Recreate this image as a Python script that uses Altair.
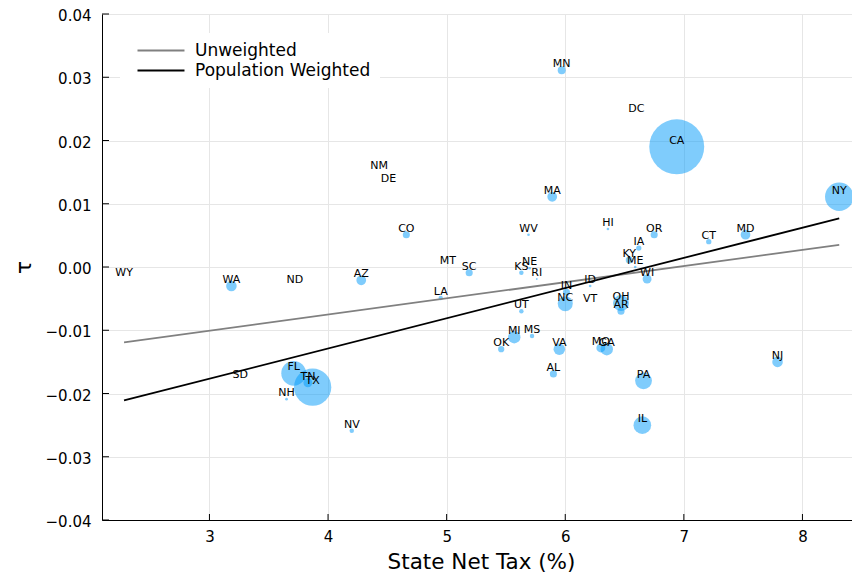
import altair as alt
import pandas as pd
import math

# ---- data ----
states = ["WY","WA","SD","NH","ND","FL","TN","TX","NV","AZ","NM","DE","CO","MT","LA",
          "SC","OK","MI","UT","KS","WV","NE","MS","RI","AL","MA","VA","MN","NC","IN",
          "ID","VT","MO","GA","HI","OH","AR","KY","ME","DC","IA","PA","IL","WI","OR",
          "CA","CT","MD","NJ","NY"]
net_tax = [2.28,3.185,3.26,3.65,3.72,3.71,3.83,3.87,4.20,4.28,4.43,4.51,4.66,5.01,4.95,
           5.19,5.46,5.57,5.63,5.63,5.69,5.70,5.72,5.76,5.90,5.89,5.95,5.97,6.00,6.01,
           6.21,6.21,6.30,6.35,6.36,6.47,6.47,6.54,6.59,6.60,6.62,6.66,6.65,6.69,6.75,
           6.94,7.21,7.52,7.79,8.31]
tau = [-0.0019,-0.0030,-0.0180,-0.0209,-0.0030,-0.0168,-0.0183,-0.0190,-0.0259,-0.0021,
       0.0150,0.0130,0.0051,0.0000,-0.0049,
       -0.0009,-0.0130,-0.0111,-0.0070,-0.0009,0.0051,-0.0002,-0.0109,-0.0019,-0.0169,
       0.0111,-0.0130,0.0311,-0.0058,-0.0040,
       -0.0030,-0.0060,-0.0128,-0.0130,0.0060,-0.0057,-0.0070,0.0011,0.0000,0.0240,
       0.0030,-0.0180,-0.0250,-0.0019,0.0051,
       0.0190,0.0040,0.0051,-0.0150,0.0111]
weight = [0,7.6,0,1.9,0,17.8,6.4,26.8,3.2,7.0,0,0,5.1,0,3.2,
          5.1,4.5,8.9,3.2,3.2,1.9,1.9,3.2,1.3,5.1,7.0,8.3,5.7,10.8,5.1,
          1.9,0,6.4,8.9,1.9,11.5,5.1,5.1,1.9,0,3.8,12.1,12.7,6.4,5.1,
          39.5,3.8,7.0,7.6,20.4]

fit_series = ["Unweighted","Unweighted","Population Weighted","Population Weighted"]
fit_x = [2.28, 8.31, 2.28, 8.31]
fit_y = [-0.0119, 0.0035, -0.0211, 0.0077]

x_ticks = [3,4,5,6,7,8]
y_ticks = [-0.04,-0.03,-0.02,-0.01,0.0,0.01,0.02,0.03,0.04]

pts = pd.DataFrame({"state": states, "x": net_tax, "y": tau, "w": weight})
fit = pd.DataFrame({"series": fit_series, "x": fit_x, "y": fit_y})
xt = pd.DataFrame({"v": x_ticks})
yt = pd.DataFrame({"v": y_ticks})

FONT = "DejaVu Sans"
W, H = 750, 506
xs = alt.Scale(domain=[2.094, 2.094 + W / 118.6], nice=False, zero=False)
ys = alt.Scale(domain=[-0.04, 0.04], nice=False, zero=False)

xaxis = alt.Axis(values=x_ticks, format="d", title="State Net Tax (%)", ticks=False,
                 labelPadding=9, titlePadding=7, titleX=379, grid=True)
yaxis = alt.Axis(values=y_ticks, format=".2f", title="τ", ticks=False,
                 labelPadding=11, labelOffset=1.5, titlePadding=10, grid=True)

points = alt.Chart(pts).mark_circle(color="#009AFA", opacity=0.5, strokeWidth=0).encode(
    x=alt.X("x:Q", scale=xs, axis=xaxis),
    y=alt.Y("y:Q", scale=ys, axis=yaxis),
    size=alt.Size("w:Q", scale=alt.Scale(type="pow", exponent=2, domain=[0, 39.5],
                                         range=[0, math.pi * 31 ** 2]), legend=None),
)

lines = alt.Chart(fit).mark_line(strokeWidth=1.8).encode(
    x=alt.X("x:Q", scale=xs),
    y=alt.Y("y:Q", scale=ys),
    color=alt.Color("series:N",
                    scale=alt.Scale(domain=["Unweighted", "Population Weighted"],
                                    range=["#808080", "#000000"]),
                    legend=alt.Legend(title=None, orient="none", legendX=18, legendY=19,
                                      fillColor="white", padding=9,
                                      symbolType="M0,0H8", symbolSize=138,
                                      symbolStrokeWidth=1.8, labelFontSize=17,
                                      labelFont=FONT, labelOffset=49, rowPadding=2,
                                      labelLimit=400, labelColor="black")),
    detail="series:N",
)

labels = alt.Chart(pts).mark_text(font=FONT, fontSize=11, dy=-6, color="black").encode(
    x=alt.X("x:Q", scale=xs),
    y=alt.Y("y:Q", scale=ys),
    text="state:N",
)

xtick_marks = alt.Chart(xt).mark_rule(color="black", strokeWidth=1).encode(
    x=alt.X("v:Q", scale=xs), y=alt.value(H), y2=alt.value(H - 6))
ytick_marks = alt.Chart(yt).mark_rule(color="black", strokeWidth=1).encode(
    y=alt.Y("v:Q", scale=ys), x=alt.value(0), x2=alt.value(7))

chart = alt.layer(points, lines, labels, xtick_marks, ytick_marks).properties(
    width=W, height=H,
    autosize=alt.AutoSizeParams(type="none"),
    padding={"left": 94, "top": 6, "right": 0, "bottom": 54},
).configure_view(stroke=None).configure_axis(
    domainColor="black", domainWidth=1, gridColor="#e6e6e6", gridWidth=1,
    labelFont=FONT, titleFont=FONT, labelFontSize=15, titleFontSize=21.5,
    labelColor="black", titleColor="black", titleFontWeight="normal",
)

chart.save("out.html", embed_options={"renderer": "svg", "actions": False})
